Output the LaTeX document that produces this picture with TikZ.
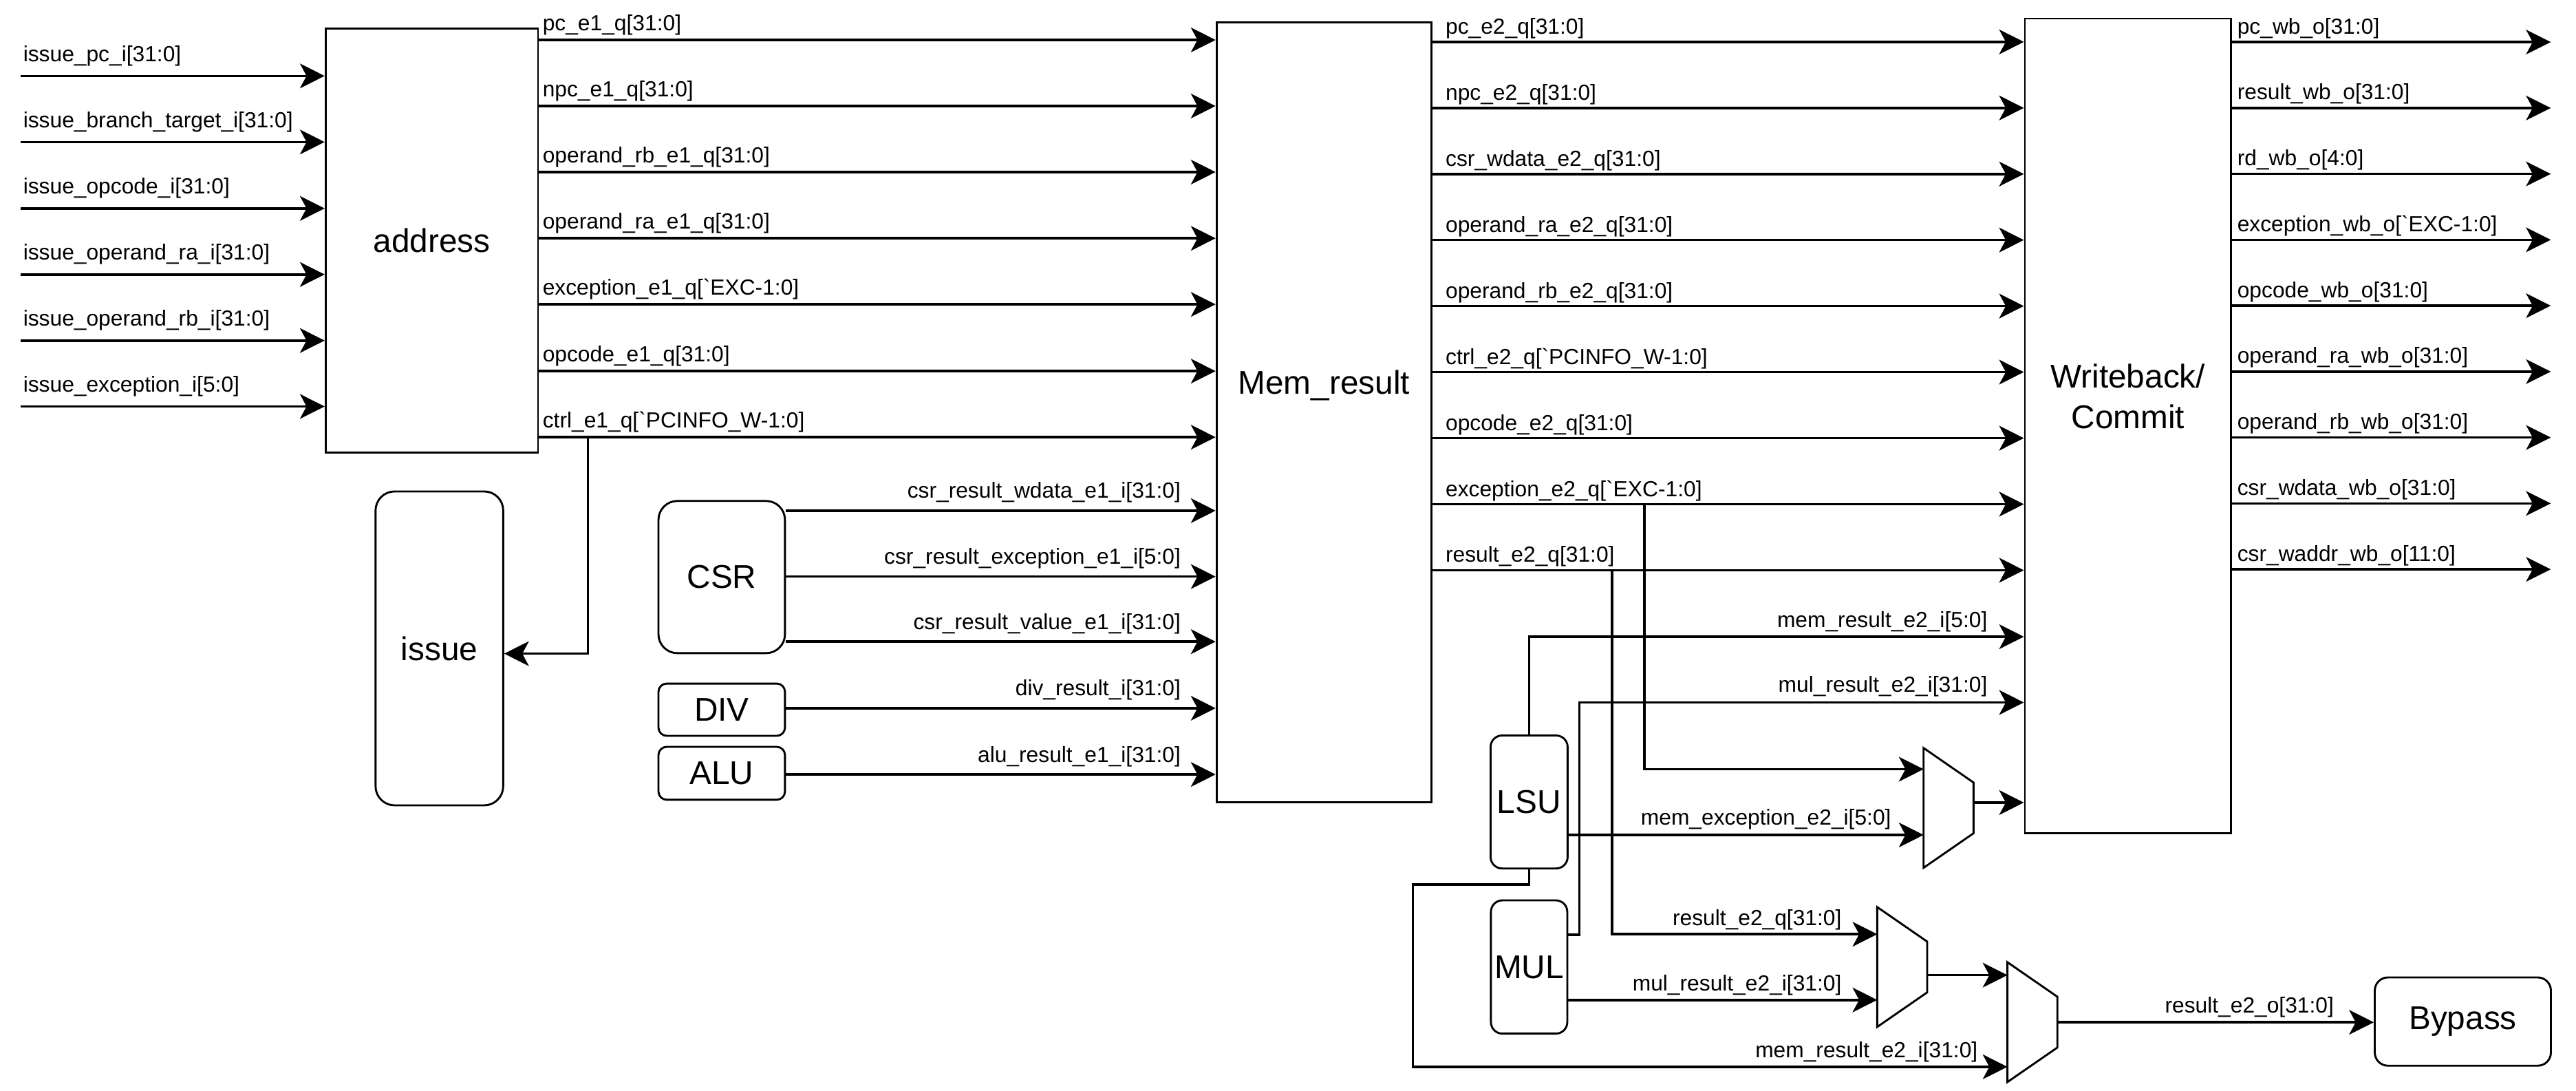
\documentclass[tikz,border=0pt]{standalone}
\usepackage{fontspec}
\setmainfont{Liberation Sans}
\usetikzlibrary{arrows.meta,positioning}

\tikzset{
  sig/.style={line width=1.5pt, -{Stealth[length=15pt,width=15pt,inset=4pt]}},
  lbl/.style={font=\fontsize{13.3}{16}\selectfont, inner sep=0pt},
  blk/.style={draw, line width=1.2pt, inner sep=0pt, font=\fontsize{20}{25}\selectfont, align=center},
  blktxt/.style={inner sep=0pt, font=\fontsize{20}{25}\selectfont, align=center},
  muxbox/.style={inner sep=0pt, minimum width=30pt, minimum height=72.5pt},
  muxline/.style={line width=1.2pt},
}
\newcommand{\grv}{\textasciigrave}

\begin{document}
\begin{tikzpicture}[x=1pt,y=-1pt]
  \useasboundingbox (0,0) rectangle (1568,663.4);

  % blocks
  \node[blk, minimum width=129.3pt, minimum height=258pt] (address) at (262.85,146.4) {address};
  \node[blk, rounded corners=11.6pt, minimum width=77.7pt, minimum height=191pt] (issue) at (267.45,394.5) {issue};
  \node[blk, rounded corners=11.5pt, minimum width=77pt, minimum height=92.6pt] (csr) at (439.3,351.1) {CSR};
  \node[blk, rounded corners=5pt, minimum width=77pt, minimum height=31.8pt] (div) at (439.3,431.8) {DIV};
  \node[blk, rounded corners=5pt, minimum width=77pt, minimum height=32.2pt] (alu) at (439.3,470.5) {ALU};
  \node[blk, minimum width=130.8pt, minimum height=474.4pt] (mem) at (805.9,250.8) {};
  \node[blktxt, anchor=base] (memtxt) at ([yshift=11.1pt]mem.center) {Mem\_result};
  \node[blk, minimum width=125.5pt, minimum height=495.5pt] (wb) at (1295.25,259.05) {};
  \node[blktxt] (wbtxt) at (1295.25,241.2) {Writeback/\\Commit};
  \node[blk, rounded corners=7pt, minimum width=46.9pt, minimum height=80.9pt] (lsu) at (930.75,487.95) {LSU};
  \node[blk, rounded corners=7pt, minimum width=46.5pt, minimum height=81.1pt] (mul) at (930.75,588.35) {MUL};
  \node[blk, rounded corners=8pt, minimum width=107.2pt, minimum height=53.7pt] (bypass) at (1499.1,621.55) {Bypass};

  % muxes
  \node[muxbox] (mux1) at (1186.05,491.55) {};
  \node[muxbox] (mux2) at (1157.85,588.35) {};
  \node[muxbox] (mux3) at (1237.1,621.9) {};
  \foreach \m in {mux1,mux2,mux3}
    \draw[muxline] (\m.north west) -- ([yshift=-21pt]\m.north east)
      -- ([yshift=21pt]\m.south east) -- (\m.south west) -- cycle;

  % issue inputs
  \foreach \i/\y/\txt in {1/46.2/issue\_pc\_i[31:0], 2/86.4/issue\_branch\_target\_i[31:0],
      3/126.8/issue\_opcode\_i[31:0], 4/167/issue\_operand\_ra\_i[31:0],
      5/207.2/issue\_operand\_rb\_i[31:0], 6/247.3/issue\_exception\_i[5:0]} {
    \coordinate (in\i) at (12.6,\y);
    \draw[sig] (in\i) -- node[lbl, at start, anchor=base west, xshift=0.8pt, yshift=8.8pt] {\txt} (address.west |- in\i);
  }

  % e1 stage
  \foreach \y/\txt in {24.3/pc\_e1\_q[31:0], 64.5/npc\_e1\_q[31:0], 104.7/operand\_rb\_e1\_q[31:0],
      145/operand\_ra\_e1\_q[31:0], 185.2/exception\_e1\_q[\grv EXC-1:0],
      225.8/opcode\_e1\_q[31:0], 266/ctrl\_e1\_q[\grv PCINFO\_W-1:0]}
    \draw[sig] (address.east |- 0,\y) -- node[lbl, at start, anchor=base west, xshift=1.5pt, yshift=5.6pt] {\txt} (mem.west |- 0,\y);

  \coordinate (ctrltap) at (357.9,266);
  \draw[sig] (ctrltap) |- (issue.east |- 0,397.7);

  \foreach \src/\y/\txt in {csr/310.7/csr\_result\_wdata\_e1\_i[31:0], csr/350.8/csr\_result\_exception\_e1\_i[5:0],
      csr/390.4/csr\_result\_value\_e1\_i[31:0], div/430.9/div\_result\_i[31:0],
      alu/471.2/alu\_result\_e1\_i[31:0]}
    \draw[sig] (\src.east |- 0,\y) -- node[lbl, at end, anchor=base east, xshift=-20.5pt, yshift=7.5pt] {\txt} (mem.west |- 0,\y);

  % e2 stage
  \foreach \i/\txt in {0/pc\_e2\_q[31:0], 1/npc\_e2\_q[31:0], 2/csr\_wdata\_e2\_q[31:0],
      3/operand\_ra\_e2\_q[31:0], 4/operand\_rb\_e2\_q[31:0], 5/ctrl\_e2\_q[\grv PCINFO\_W-1:0],
      6/opcode\_e2\_q[31:0], 7/exception\_e2\_q[\grv EXC-1:0], 8/result\_e2\_q[31:0]} {
    \pgfmathsetmacro\y{25.5+40.18*\i}
    \draw[sig] (mem.east |- 0,\y) -- node[lbl, at start, anchor=base west, xshift=7.3pt, yshift=4.8pt] {\txt} (wb.west |- 0,\y);
  }

  % writeback outputs
  \foreach \i/\txt in {0/pc\_wb\_o[31:0], 1/result\_wb\_o[31:0], 2/rd\_wb\_o[4:0],
      3/exception\_wb\_o[\grv EXC-1:0], 4/opcode\_wb\_o[31:0], 5/operand\_ra\_wb\_o[31:0],
      6/operand\_rb\_wb\_o[31:0], 7/csr\_wdata\_wb\_o[31:0], 8/csr\_waddr\_wb\_o[11:0]} {
    \pgfmathsetmacro\y{25.6+40.1*\i}
    \coordinate (wbo\i) at (1552.6,\y);
    \draw[sig] (wb.east |- wbo\i) -- node[lbl, at start, anchor=base west, xshift=2.5pt, yshift=5pt] {\txt} (wbo\i);
  }

  % LSU / MUL paths
  \draw[sig] (lsu.north) |- node[lbl, at end, anchor=base east, xshift=-21.5pt, yshift=5.7pt] {mem\_result\_e2\_i[5:0]} (wb.west |- 0,387.4);
  \draw[sig] (mul.east |- 0,568.8) -- (961.4,568.8) |- node[lbl, at end, anchor=base east, xshift=-21.5pt, yshift=6.4pt] {mul\_result\_e2\_i[31:0]} (wb.west |- 0,427.4);

  \coordinate (exctap) at (1001,307);
  \draw[sig] (exctap) |- (mux1.west |- 0,468);
  \draw[sig] (lsu.east |- 0,508) -- node[lbl, at end, anchor=base east, xshift=-19pt, yshift=6pt] {mem\_exception\_e2\_i[5:0]} (mux1.west |- 0,508);
  \draw[sig] (mux1.east |- 0,488.3) -- (wb.west |- 0,488.3);

  \coordinate (restap) at (981.2,347);
  \draw[sig] (restap) |- node[lbl, at end, anchor=base east, xshift=-21pt, yshift=5.4pt] {result\_e2\_q[31:0]} (mux2.west |- 0,568.4);
  \draw[sig] (mul.east |- 0,608.4) -- node[lbl, at end, anchor=base east, xshift=-21pt, yshift=5.4pt] {mul\_result\_e2\_i[31:0]} (mux2.west |- 0,608.4);
  \draw[sig] (mux2.east |- 0,593.3) -- (mux3.west |- 0,593.3);

  \draw[sig] (lsu.south) |- (860,538.2) |- node[lbl, at end, anchor=base east, xshift=-17.4pt, yshift=5.6pt] {mem\_result\_e2\_i[31:0]} (mux3.west |- 0,649.1);
  \draw[sig] (mux3.east |- 0,622) -- node[lbl, at end, anchor=base east, xshift=-23.6pt, yshift=5.7pt] {result\_e2\_o[31:0]} (bypass.west |- 0,622);
\end{tikzpicture}
\end{document}
